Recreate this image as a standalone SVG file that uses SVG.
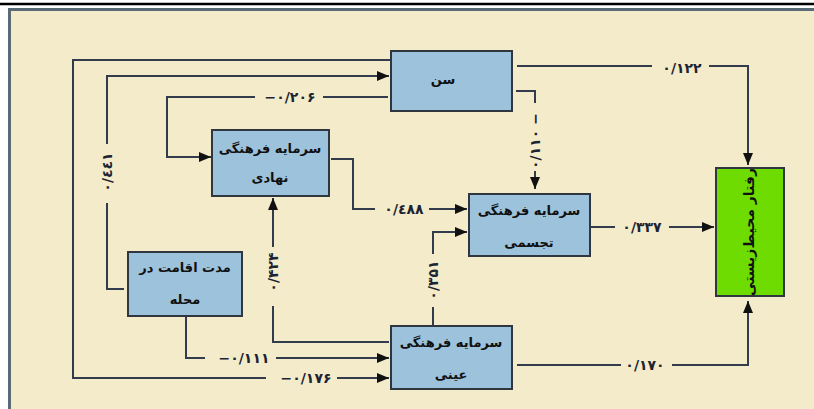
<svg xmlns="http://www.w3.org/2000/svg" width="814" height="409" viewBox="0 0 814 409">
<style>
.node{fill:#9dc3dc;stroke:#2f3640;stroke-width:2}
.goal{fill:#6edc00;stroke:#2f3640;stroke-width:2}
.c{fill:none;stroke:#323c4c;stroke-width:2}
.t{font-family:"DejaVu Sans",sans-serif;font-size:13px;font-weight:bold;fill:#111;text-anchor:middle;dominant-baseline:central}
.l{font-family:"DejaVu Sans",sans-serif;font-size:14px;font-weight:bold;fill:#1c2333;text-anchor:middle;dominant-baseline:central}
</style>
<defs>
<marker id="ah" markerUnits="userSpaceOnUse" markerWidth="12" markerHeight="10" refX="12" refY="5" orient="auto">
<path d="M0,0 L12,5 L0,10 Z" fill="#111"/>
</marker>
</defs>
<rect width="814" height="409" fill="#fff"/>
<line x1="0" y1="4" x2="814" y2="4" stroke="#000" stroke-width="2.5"/>
<rect x="9.5" y="9.5" width="820" height="420" fill="#f3ebc9" stroke="#5b6b75" stroke-width="3"/>

<g id="connectors">
<path class="c" d="M391,60 H73 V378 H266"/>
<path class="c" d="M337,378 H389" marker-end="url(#ah)"/>
<text class="l" x="306" y="378">−۰/۱۷۶</text>

<path class="c" d="M124,289 H107 V203"/>
<path class="c" d="M107,144 V76 H389" marker-end="url(#ah)"/>
<text class="l" transform="translate(107,172) rotate(-90)">۰/٤٤۱</text>

<path class="c" d="M388,97 H323"/>
<path class="c" d="M255,97 H167 V157 H211" marker-end="url(#ah)"/>
<text class="l" x="290" y="97">−۰/۲۰۶</text>

<path class="c" d="M516,91 H535 V103"/>
<path class="c" d="M535,171 V189" marker-end="url(#ah)"/>
<text class="l" transform="translate(535,141) rotate(-90)">۰/۱۱۰  −</text>

<path class="c" d="M331,159 H353 V209 H375"/>
<path class="c" d="M429,209 H467" marker-end="url(#ah)"/>
<text class="l" x="404" y="209">۰/٤۸۸</text>

<path class="c" d="M433,326 V307"/>
<path class="c" d="M433,254 V232 H467" marker-end="url(#ah)"/>
<text class="l" transform="translate(433,280) rotate(-90)">۰/۳۵۱</text>

<path class="c" d="M389,342 H273 V306"/>
<path class="c" d="M273,247 V198" marker-end="url(#ah)"/>
<text class="l" transform="translate(273,272) rotate(-90)">۰/۴۲۴</text>

<path class="c" d="M186,316 V358 H205"/>
<path class="c" d="M276,358 H389" marker-end="url(#ah)"/>
<text class="l" x="244" y="358">−۰/۱۱۱</text>

<path class="c" d="M590,227 H615"/>
<path class="c" d="M669,227 H714" marker-end="url(#ah)"/>
<text class="l" x="642" y="227">۰/۳۳۷</text>

<path class="c" d="M517,66 H652"/>
<path class="c" d="M709,66 H748 V165" marker-end="url(#ah)"/>
<text class="l" x="682" y="68">۰/۱۲۲</text>

<path class="c" d="M517,365 H621"/>
<path class="c" d="M672,365 H748 V301" marker-end="url(#ah)"/>
<text class="l" x="645" y="365">۰/۱۷۰</text>
</g>

<g id="age">
<rect class="node" x="391" y="51" width="121" height="60"/>
<text class="t" x="443" y="79">سن</text>
</g>
<g id="institutional">
<rect class="node" x="212" y="130" width="117" height="66"/>
<text class="t" x="270" y="148">سرمایه فرهنگی</text>
<text class="t" x="270" y="177">نهادی</text>
</g>
<g id="embodied">
<rect class="node" x="469" y="194" width="121" height="62"/>
<text class="t" x="529" y="210">سرمایه فرهنگی</text>
<text class="t" x="529" y="242">تجسمی</text>
</g>
<g id="objectified">
<rect class="node" x="391" y="326" width="121" height="63"/>
<text class="t" x="451" y="342">سرمایه فرهنگی</text>
<text class="t" x="451" y="374">عینی</text>
</g>
<g id="residence">
<rect class="node" x="128" y="252" width="114" height="64"/>
<text class="t" x="185" y="267">مدت اقامت در</text>
<text class="t" x="185" y="299">محله</text>
</g>
<g id="behavior">
<rect class="goal" x="716" y="168" width="68" height="128"/>
<text class="t" style="font-size:14px" transform="translate(749,232) rotate(-90)">رفتار محیط‌زیستی</text>
</g>
</svg>
